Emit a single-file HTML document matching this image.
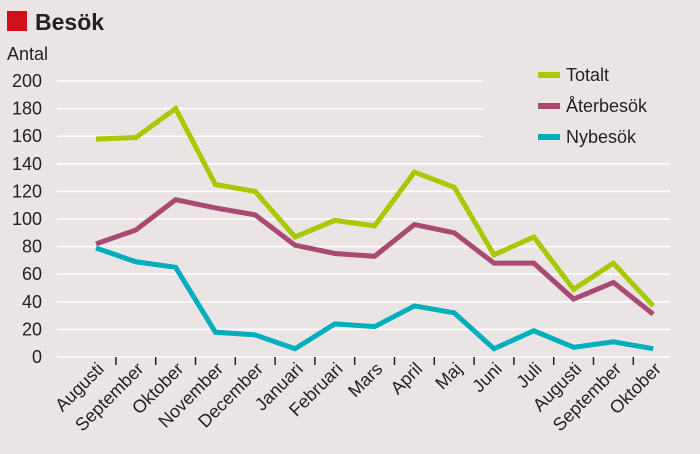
<!DOCTYPE html><html><head><meta charset="utf-8"><style>body{margin:0;background:#ebe4e5}svg{display:block}text{font-family:"Liberation Sans",sans-serif;fill:#222}</style></head><body>
<svg width="700" height="454" viewBox="0 0 700 454">
<rect width="700" height="454" fill="#ebe4e5"/>
<rect x="7" y="11" width="20" height="20" fill="#d0101a"/>
<text x="35" y="30" font-size="23" font-weight="bold" fill="#111">Besök</text>
<text x="7" y="60" font-size="18">Antal</text>
<g stroke="#fff" stroke-width="1.5">
<line x1="57" x2="483" y1="81" y2="81"/><line x1="57" x2="483" y1="108.6" y2="108.6"/><line x1="57" x2="483" y1="136.2" y2="136.2"/>
<line x1="57" x2="670" y1="163.8" y2="163.8"/><line x1="57" x2="670" y1="191.4" y2="191.4"/><line x1="57" x2="670" y1="219" y2="219"/><line x1="57" x2="670" y1="246.6" y2="246.6"/><line x1="57" x2="670" y1="274.2" y2="274.2"/><line x1="57" x2="670" y1="301.8" y2="301.8"/><line x1="57" x2="670" y1="329.4" y2="329.4"/><line x1="57" x2="670" y1="357" y2="357"/>
</g>
<g font-size="18" text-anchor="end">
<text x="42" y="87">200</text><text x="42" y="114.6">180</text><text x="42" y="142.2">160</text><text x="42" y="169.8">140</text><text x="42" y="197.4">120</text><text x="42" y="225">100</text><text x="42" y="252.6">80</text><text x="42" y="280.2">60</text><text x="42" y="307.8">40</text><text x="42" y="335.4">20</text><text x="42" y="363">0</text>
</g>
<g stroke="#222" stroke-width="1.5" id="t"></g>
<g id="l" font-size="18" text-anchor="end"></g>
<g id="s" fill="none" stroke-width="5" stroke-linejoin="miter"></g>
<g stroke-width="6"><line x1="538" x2="560" y1="75" y2="75" stroke="#a8c800"/><line x1="538" x2="560" y1="106" y2="106" stroke="#a84a72"/><line x1="538" x2="560" y1="137" y2="137" stroke="#00aebc"/></g>
<g font-size="18"><text x="566" y="81">Totalt</text><text x="566" y="112">Återbesök</text><text x="566" y="143">Nybesök</text></g>
<script>
var ns="http://www.w3.org/2000/svg",x0=96,dx=39.8,Y=v=>357-v*1.38;
var m=["Augusti","September","Oktober","November","December","Januari","Februari","Mars","April","Maj","Juni","Juli","Augusti","September","Oktober"];
var t=document.getElementById("t"),l=document.getElementById("l"),s=document.getElementById("s");
for(var i=0;i<15;i++){var x=x0+i*dx;if(i<14){var e=document.createElementNS(ns,"line");e.setAttribute("x1",x+dx/2);e.setAttribute("x2",x+dx/2);e.setAttribute("y1",357);e.setAttribute("y2",365);t.appendChild(e);}
var tx=document.createElementNS(ns,"text");tx.setAttribute("transform","translate("+(x+9)+",370) rotate(-45)");tx.textContent=m[i];l.appendChild(tx);}
var d=[["#a8c800",[158,159,180,125,120,87,99,95,134,123,74,87,49,68,37]],["#a84a72",[82,92,114,108,103,81,75,73,96,90,68,68,42,54,31]],["#00aebc",[79,69,65,18,16,6,24,22,37,32,6,19,7,11,6]]];
d.forEach(function(a){var p=document.createElementNS(ns,"polyline");p.setAttribute("stroke",a[0]);p.setAttribute("points",a[1].map((v,i)=>(x0+i*dx)+","+Y(v)).join(" "));s.appendChild(p);});
</script>
</svg></body></html>
